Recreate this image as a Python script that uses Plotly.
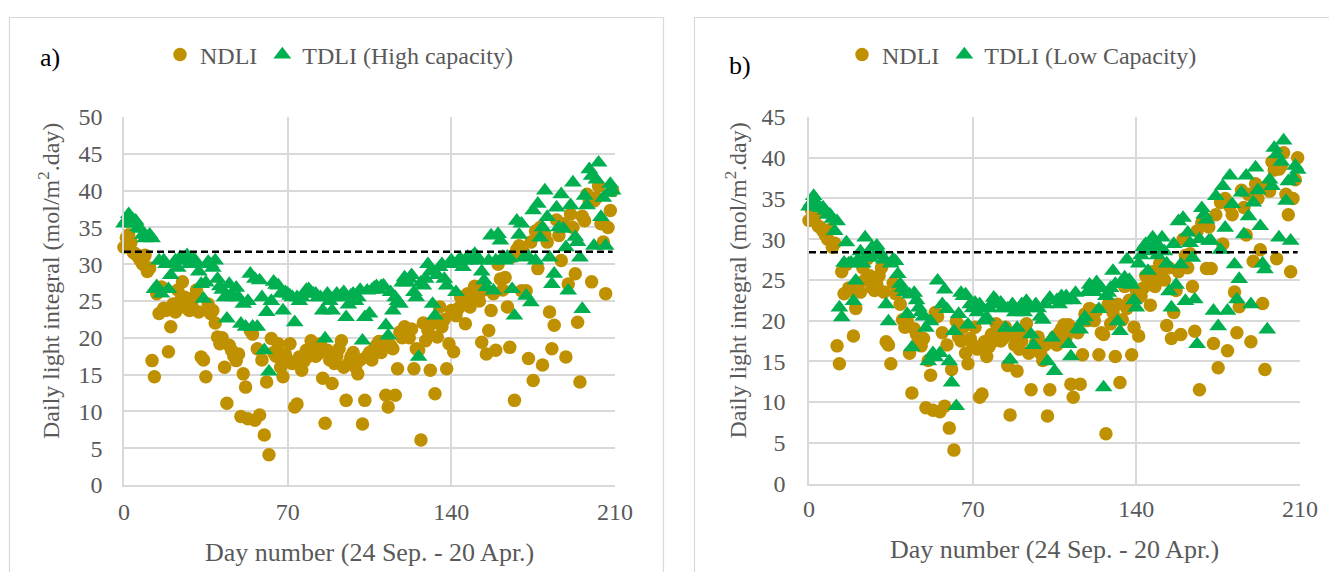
import plotly.graph_objects as go

W, H = 1337, 572
# the page body adds an 8px margin; positions below are page pixels
OFF = 8

# ---------------- data ----------------
DAYS = list(range(0, 210))

NDLI = [
    32.3, 33.6, 34.0, 33.0, 31.6, 31.4, 31.0, 30.5, 30.0, 31.2,
    29.0, 29.5, 16.9, 14.7, 26.0, 23.3, 26.9, 24.0, 23.7, 18.1,
    21.5, 24.6, 23.5, 26.5, 25.0, 27.6, 25.5, 24.0, 23.7, 24.5,
    25.5, 26.5, 23.5, 17.4, 17.0, 14.7, 24.6, 23.3, 23.7, 22.0,
    20.1, 19.2, 20.0, 16.0, 11.1, 19.0, 18.3, 17.5, 16.9, 17.8,
    9.3, 15.1, 13.3, 9.0, 21.0, 20.5, 8.8, 18.5, 9.5, 17.0,
    6.8, 14.0, 4.1, 19.9, 18.0, 17.5, 19.2, 16.0, 14.7, 17.8,
    17.0, 19.2, 16.5, 10.6, 11.0, 17.4, 15.6, 16.8, 18.3, 17.5,
    19.6, 18.0, 17.5, 17.8, 19.2, 14.5, 8.4, 18.3, 17.0, 13.8,
    16.5, 17.5, 18.5, 19.6, 16.0, 11.5, 16.5, 17.4, 18.0, 16.0,
    15.1, 17.0, 8.3, 11.5, 17.5, 18.0, 17.0, 18.5, 19.0, 19.5,
    18.0, 19.5, 12.2, 10.6, 19.0, 18.5, 12.2, 15.8, 20.8, 20.0,
    21.5, 21.0, 20.0, 21.2, 15.8, 18.5, 18.3, 6.1, 22.0, 19.6,
    21.0, 15.6, 22.0, 12.4, 20.1, 24.2, 21.5, 22.5, 15.8, 19.2,
    23.7, 18.1, 23.0, 24.0, 25.5, 24.5, 21.9, 26.0, 24.2, 25.0,
    27.0, 26.4, 25.0, 19.4, 26.5, 17.8, 21.0, 23.7, 26.0, 18.3,
    30.0, 28.0, 26.5, 28.2, 24.2, 18.7, 31.0, 11.5, 32.0, 32.5,
    26.4, 31.5, 26.4, 17.2, 33.0, 14.2, 34.5, 29.4, 35.0, 16.3,
    34.0, 33.0, 23.5, 18.5, 21.7, 36.0, 33.9, 30.5, 35.5, 17.4,
    27.3, 36.8, 35.0, 28.7, 22.1, 14.0, 36.5, 35.9, 39.5, 38.5,
    27.6, 38.6, 39.0, 40.6, 35.5, 33.0, 26.0, 35.0, 37.3, 40.0,
]

TDLI_HIGH = [
    35.5, 36.0, 36.8, 35.5, 36.0, 35.9, 35.0, 34.8, 34.0, 33.5,
    33.7, 34.0, 33.5, 26.6, 27.0, 30.5, 26.0, 30.5, 30.0, 26.6,
    28.5, 30.0, 30.5, 29.5, 30.9, 30.8, 30.5, 31.2, 30.0, 30.5,
    30.7, 30.0, 29.0, 27.3, 25.3, 27.5, 30.3, 30.0, 29.5, 30.5,
    28.0, 27.0, 26.5, 25.5, 22.6, 27.3, 26.0, 25.5, 26.8, 25.5,
    21.9, 24.6, 21.5, 25.0, 28.7, 21.5, 28.0, 21.5, 27.8, 25.5,
    18.3, 23.5, 15.4, 25.0, 27.6, 27.2, 27.1, 26.0, 23.7, 26.2,
    26.0, 25.7, 25.5, 22.1, 25.5, 25.0, 25.5, 26.0, 26.5, 26.6,
    26.2, 26.0, 26.0, 25.5, 25.5, 23.7, 19.9, 26.0, 25.0, 23.7,
    25.5, 26.0, 25.5, 25.8, 26.2, 22.8, 24.5, 25.7, 26.0, 25.0,
    25.5, 26.5, 19.6, 22.8, 26.4, 23.3, 26.5, 26.8, 27.0, 26.5,
    27.0, 27.1, 21.7, 20.3, 26.2, 23.7, 25.5, 25.0, 24.6, 27.5,
    28.2, 27.5, 28.0, 28.5, 26.2, 25.5, 17.4, 27.5, 27.1, 28.0,
    30.0, 29.0, 24.6, 23.0, 28.5, 29.6, 30.0, 28.0, 27.1, 30.0,
    30.5, 30.0, 26.2, 30.5, 30.7, 29.6, 30.5, 31.0, 30.5, 31.0,
    31.4, 31.0, 30.5, 29.0, 27.8, 26.9, 30.5, 33.9, 26.4, 30.5,
    34.1, 33.2, 31.0, 30.5, 31.0, 30.8, 26.6, 23.0, 35.9, 34.0,
    35.5, 30.9, 25.7, 31.0, 24.8, 37.3, 30.5, 38.2, 33.6, 35.0,
    40.0, 36.4, 30.9, 27.3, 28.7, 37.7, 35.0, 39.5, 34.8, 32.3,
    26.4, 38.0, 41.1, 33.7, 33.0, 30.9, 23.9, 39.3, 38.0, 42.9,
    42.0, 32.5, 41.5, 43.8, 36.4, 39.0, 32.5, 39.7, 40.9, 40.0,
]

TDLI_LOW = [
    34.0, 34.5, 35.3, 34.5, 34.0, 33.8, 33.9, 33.5, 33.0, 33.0,
    32.5, 31.0, 32.2, 21.6, 20.4, 27.1, 29.6, 27.0, 27.1, 22.4,
    24.9, 27.5, 28.5, 27.0, 30.2, 28.0, 27.7, 29.0, 28.0, 29.2,
    28.5, 28.0, 27.5, 22.0, 19.9, 27.0, 27.5, 27.3, 25.7, 24.5,
    24.0, 23.5, 20.8, 23.2, 16.7, 23.4, 22.5, 21.6, 21.0, 20.5,
    19.1, 15.0, 19.9, 16.0, 15.5, 24.9, 16.0, 22.0, 23.8, 21.4,
    15.0, 12.4, 18.7, 9.5, 20.8, 23.4, 23.0, 23.2, 19.5, 22.0,
    21.5, 22.2, 21.0, 22.0, 21.5, 20.0, 20.4, 21.5, 22.0, 22.8,
    22.5, 22.0, 22.2, 21.5, 19.1, 21.5, 15.2, 22.0, 21.0, 19.1,
    21.5, 22.0, 21.0, 22.4, 21.5, 18.3, 17.0, 22.0, 21.5, 20.5,
    20.1, 22.0, 15.0, 22.8, 17.9, 13.8, 22.5, 22.0, 23.0, 22.5,
    23.0, 17.1, 15.6, 22.5, 23.4, 19.0, 18.9, 19.9, 20.4, 23.5,
    24.4, 24.0, 23.5, 24.7, 21.4, 24.0, 11.8, 23.0, 23.4, 24.0,
    26.1, 24.5, 19.9, 18.7, 24.5, 25.3, 27.5, 25.0, 24.4, 22.5,
    21.6, 27.0, 28.0, 29.0, 29.4, 26.1, 28.5, 30.2, 29.5, 28.0,
    29.0, 30.2, 28.5, 27.0, 23.6, 21.6, 29.4, 24.4, 32.2, 26.9,
    32.6, 22.4, 30.8, 29.5, 27.7, 22.6, 17.1, 30.0, 33.8, 33.0,
    32.4, 29.8, 29.8, 21.2, 35.3, 19.3, 28.7, 36.5, 31.4, 21.2,
    37.8, 34.3, 26.9, 22.6, 25.1, 35.7, 30.6, 37.8, 32.8, 22.0,
    34.5, 38.8, 36.0, 31.6, 27.0, 26.3, 18.9, 37.3, 36.5, 41.2,
    40.4, 30.2, 39.5, 42.1, 34.7, 37.1, 29.8, 37.5, 39.0, 38.5,
]

THRESHOLD_A = 31.7
THRESHOLD_B = 28.4
LINE_DAYS = [0, 209]

X_TICKS = [0, 70, 140, 210]
Y_TICKS_A = [0, 5, 10, 15, 20, 25, 30, 35, 40, 45, 50]
Y_TICKS_B = [0, 5, 10, 15, 20, 25, 30, 35, 40, 45]

# ---------------- styling ----------------
GOLD = "#BF9000"
GREEN = "#00B050"
GRID = "#D9D9D9"
TXT = "#595959"
FONT = "Liberation Serif, Times New Roman, serif"
FS = 24


def px(x):
    return (x - OFF) / W


def py(y):
    return 1 - (y - OFF) / H


fig = go.Figure()

panels = [
    dict(xa="x", ya="y", tdli=TDLI_HIGH, name="TDLI (High capacity)", thr=THRESHOLD_A, leg="legend"),
    dict(xa="x2", ya="y2", tdli=TDLI_LOW, name="TDLI (Low Capacity)", thr=THRESHOLD_B, leg="legend2"),
]

for p in panels:
    fig.add_trace(go.Scatter(
        x=DAYS, y=NDLI, mode="markers", name="NDLI",
        marker=dict(symbol="circle", size=13.5, color=GOLD, line=dict(width=0)),
        xaxis=p["xa"], yaxis=p["ya"], legend=p["leg"], cliponaxis=False,
    ))
    fig.add_trace(go.Scatter(
        x=DAYS, y=p["tdli"], mode="markers", name=p["name"],
        marker=dict(symbol="triangle-up", size=15.5, color=GREEN, line=dict(width=0)),
        xaxis=p["xa"], yaxis=p["ya"], legend=p["leg"], cliponaxis=False,
    ))
    fig.add_trace(go.Scatter(
        x=LINE_DAYS, y=[p["thr"], p["thr"]], mode="lines", showlegend=False,
        line=dict(color="black", width=2.5, dash="7px,4px"),
        xaxis=p["xa"], yaxis=p["ya"], hoverinfo="skip",
    ))

axis_common = dict(
    showgrid=True, gridcolor=GRID, gridwidth=1.5,
    showline=True, linecolor=GRID, linewidth=1.5,
    zeroline=False, ticks="outside", tickcolor="rgba(0,0,0,0)",
    tickfont=dict(family=FONT, size=FS, color=TXT), automargin=False,
)

fig.update_layout(
    width=W, height=H,
    paper_bgcolor="white", plot_bgcolor="white",
    margin=dict(l=0, r=0, t=0, b=0, pad=0, autoexpand=False),
    showlegend=True,
    xaxis=dict(domain=[px(124), px(615)], range=[0, 210], tickvals=X_TICKS,
               anchor="y", ticklen=4, **axis_common),
    yaxis=dict(domain=[py(485), py(117)], range=[0, 50], tickvals=Y_TICKS_A,
               anchor="x", ticklen=15, **axis_common),
    xaxis2=dict(domain=[px(809), px(1300)], range=[0, 210], tickvals=X_TICKS,
                anchor="y2", ticklen=3, **axis_common),
    yaxis2=dict(domain=[py(483.5), py(117)], range=[0, 45], tickvals=Y_TICKS_B,
                anchor="x2", ticklen=17, **axis_common),
    legend=dict(orientation="h", x=px(160), y=py(55), xanchor="left", yanchor="middle",
                font=dict(family=FONT, size=FS, color=TXT), bgcolor="rgba(0,0,0,0)",
                itemclick=False, tracegroupgap=0),
    legend2=dict(orientation="h", x=px(842), y=py(55), xanchor="left", yanchor="middle",
                 font=dict(family=FONT, size=FS, color=TXT), bgcolor="rgba(0,0,0,0)",
                 itemclick=False, tracegroupgap=0),
)

# chart-area borders
fig.add_shape(type="rect", xref="paper", yref="paper",
              x0=px(9.5), x1=px(663.5), y0=-0.2, y1=py(17.5),
              line=dict(color=GRID, width=1.2), layer="below")
fig.add_shape(type="rect", xref="paper", yref="paper",
              x0=px(694.5), x1=1.2, y0=-0.2, y1=py(17.5),
              line=dict(color=GRID, width=1.2), layer="below")

ann_font = dict(family=FONT, size=FS, color=TXT)
yt = "Daily light integral (mol/m<sup>2</sup>.day)"
xt = "Day number (24 Sep. - 20 Apr.)"
for x, y in [(49, 281), (735.6, 281)]:
    fig.add_annotation(text=yt, x=px(x), y=py(y), xref="paper", yref="paper",
                       showarrow=False, textangle=-90, font=ann_font,
                       xanchor="center", yanchor="middle")
for x, y in [(369.7, 552), (1054.6, 549)]:
    fig.add_annotation(text=xt, x=px(x), y=py(y), xref="paper", yref="paper",
                       showarrow=False, font=dict(family=FONT, size=26, color=TXT),
                       xanchor="center", yanchor="middle")
for t, x, y in [("a)", 50, 58), ("b)", 740, 65)]:
    fig.add_annotation(text=t, x=px(x), y=py(y), xref="paper", yref="paper",
                       showarrow=False, font=dict(family=FONT, size=26, color="black"),
                       xanchor="center", yanchor="middle")

fig.write_html("out.html")
